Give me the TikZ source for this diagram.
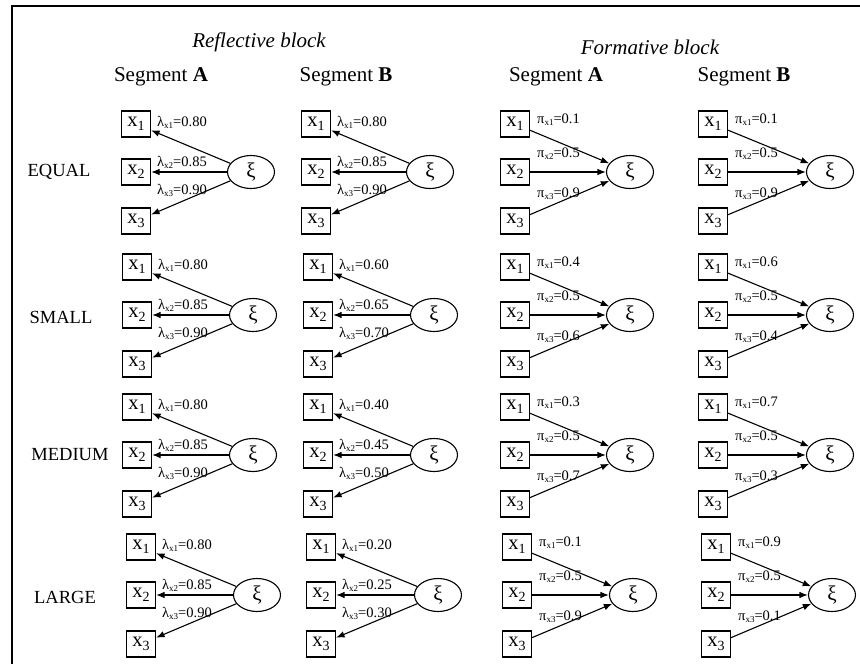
\documentclass[tikz,border=0pt]{standalone}
\usepackage{fontspec}
\setmainfont{Liberation Serif}
\usetikzlibrary{arrows.meta,shapes.geometric}

% observed indicator x_i
\newcommand\xsub[1]{x\raisebox{-4pt}{\fontsize{14}{14}\selectfont #1}}
% path coefficient such as \lambda_{x1}=0.80
\newcommand\coefsub[3]{#1\raisebox{-2pt}{\fontsize{9}{9}\selectfont x#2}=#3}

\tikzset{
  obs/.style={draw, line width=1.1pt, minimum width=29pt, minimum height=26pt,
    inner sep=0pt, font=\fontsize{20.5}{20.5}\selectfont},
  lat/.style={draw, ellipse, line width=1.1pt, minimum width=47pt, minimum height=33pt,
    inner sep=0pt, font=\fontsize{21}{21}\selectfont},
  arr/.style={line width=1.1pt, -{Latex[length=8.5pt,width=6.5pt]}},
  coef/.style={anchor=base west, inner sep=0pt, font=\fontsize{14.5}{14.5}\selectfont},
  blocktitle/.style={font=\fontsize{21}{21}\selectfont\itshape},
  seghead/.style={font=\fontsize{21}{21}\selectfont},
  rowlabel/.style={font=\fontsize{18.5}{18.5}\selectfont},
}

% reflective measurement model: latent -> indicators
% #1 prefix, #2 indicator x, #3 latent x, #4 row y, #5-#7 loadings
\newcommand\reflblock[7]{%
  \node[obs] (#1a) at (#2,#4-48) {\xsub{1}};
  \node[obs] (#1b) at (#2,#4) {\xsub{2}};
  \node[obs] (#1c) at (#2,#4+49) {\xsub{3}};
  \node[lat] (#1e) at (#3,#4) {ξ};
  \draw[arr] (#1e) -- (#1a);
  \draw[arr] (#1e) -- (#1b);
  \draw[arr] (#1e) -- (#1c);
  \node[coef] (#1la) at (#2+21,#4-46) {\coefsub{λ}{1}{#5}};
  \node[coef] (#1lb) at (#2+21,#4-6) {\coefsub{λ}{2}{#6}};
  \node[coef] (#1lc) at (#2+21,#4+22) {\coefsub{λ}{3}{#7}};
}

% formative measurement model: indicators -> latent
\newcommand\formblock[7]{%
  \node[obs] (#1a) at (#2,#4-48) {\xsub{1}};
  \node[obs] (#1b) at (#2,#4) {\xsub{2}};
  \node[obs] (#1c) at (#2,#4+49) {\xsub{3}};
  \node[lat] (#1e) at (#3,#4) {ξ};
  \draw[arr] (#1a) -- (#1e);
  \draw[arr] (#1b) -- (#1e);
  \draw[arr] (#1c) -- (#1e);
  \node[coef] (#1la) at (#2+22,#4-49) {\coefsub{π}{1}{#5}};
  \node[coef] (#1lb) at (#2+22,#4-15) {\coefsub{π}{2}{#6}};
  \node[coef] (#1lc) at (#2+22,#4+25) {\coefsub{π}{3}{#7}};
}

\begin{document}
\begin{tikzpicture}[x=1pt, y=-1pt]
\useasboundingbox (0,0) rectangle (860,664);

% frame
\draw[line width=1.4pt] (12,664) -- (12,6) -- (860,6);

% headings
\node[blocktitle] (reftitle) at (259,42) {Reflective block};
\node[blocktitle] (formtitle) at (650,47) {Formative block};
\node[seghead] (hra) at (161,77) {Segment \textbf{A}};
\node[seghead] (hrb) at (346,77) {Segment \textbf{B}};
\node[seghead] (hfa) at (556,77) {Segment \textbf{A}};
\node[seghead] (hfb) at (744,77) {Segment \textbf{B}};

% row labels
\node[rowlabel] (requal) at (59,172) {EQUAL};
\node[rowlabel] (rsmall) at (61,317) {SMALL};
\node[rowlabel] (rmedium) at (70,455) {MEDIUM};
\node[rowlabel] (rlarge) at (65,597) {LARGE};

% EQUAL
\reflblock{ra1}{136}{251}{172}{0.80}{0.85}{0.90}
\reflblock{rb1}{316}{430}{172}{0.80}{0.85}{0.90}
\formblock{fa1}{515}{630}{172}{0.1}{0.5}{0.9}
\formblock{fb1}{713}{830}{172}{0.1}{0.5}{0.9}

% SMALL
\reflblock{ra2}{137}{253}{315}{0.80}{0.85}{0.90}
\reflblock{rb2}{318}{434}{315}{0.60}{0.65}{0.70}
\formblock{fa2}{515}{630}{315}{0.4}{0.5}{0.6}
\formblock{fb2}{713}{830}{315}{0.6}{0.5}{0.4}

% MEDIUM
\reflblock{ra3}{137}{253}{455}{0.80}{0.85}{0.90}
\reflblock{rb3}{318}{434}{455}{0.40}{0.45}{0.50}
\formblock{fa3}{515}{630}{455}{0.3}{0.5}{0.7}
\formblock{fb3}{713}{830}{455}{0.7}{0.5}{0.3}

% LARGE
\reflblock{ra4}{141}{257}{595}{0.80}{0.85}{0.90}
\reflblock{rb4}{321}{438}{595}{0.20}{0.25}{0.30}
\formblock{fa4}{517}{633}{595}{0.1}{0.5}{0.9}
\formblock{fb4}{716}{832}{595}{0.9}{0.5}{0.1}
\end{tikzpicture}
\end{document}
